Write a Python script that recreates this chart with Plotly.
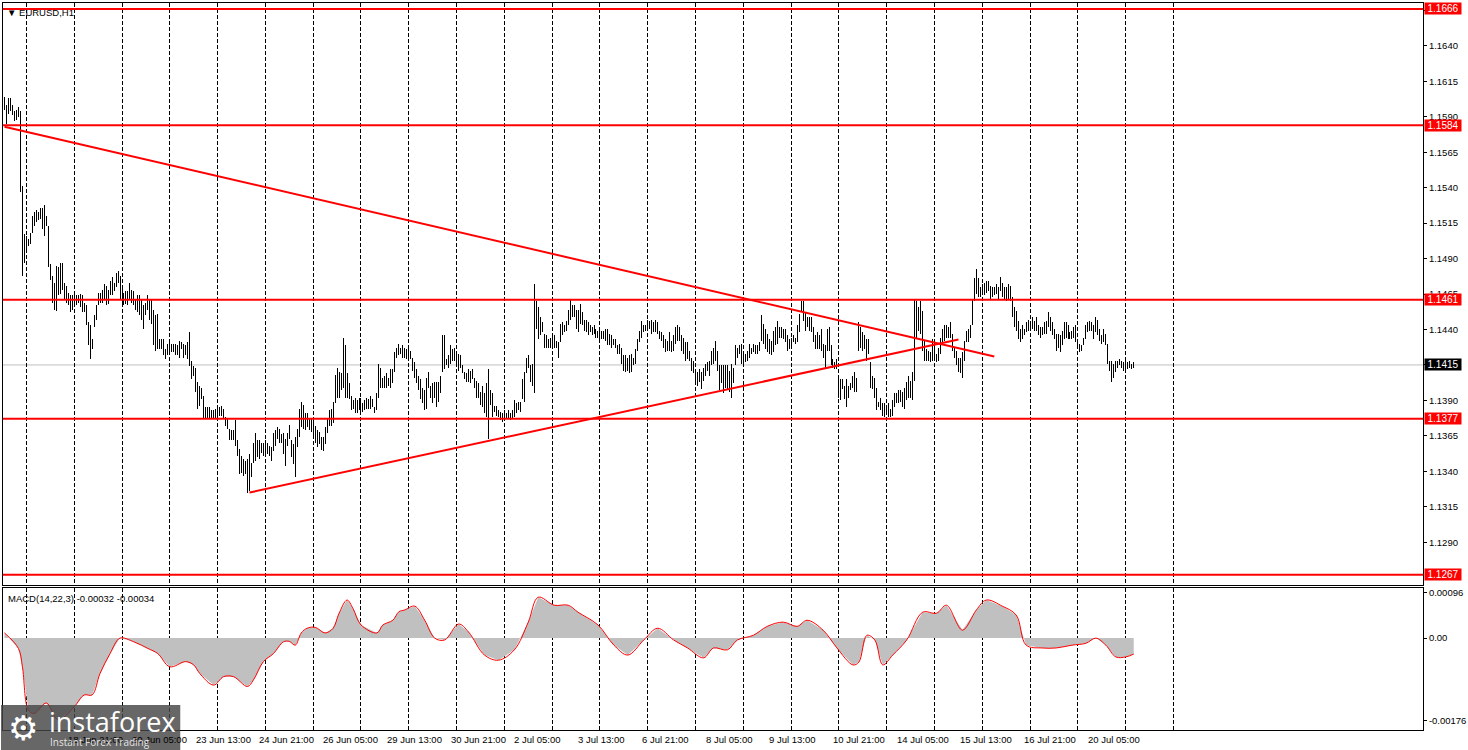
import plotly.graph_objects as go

# ---------------- data ----------------
highs = [
1.1604,1.1598,1.1603,1.1603,1.1598,1.1594,1.1595,1.1597,1.1594,1.1541,
1.1507,1.1506,1.1504,1.1508,1.1520,1.1523,1.1524,1.1523,1.1526,1.1526,
1.1528,1.1520,1.1513,1.1486,1.1478,1.1473,1.1485,1.1484,1.1487,1.1487,
1.1473,1.1471,1.1466,1.1464,1.1464,1.1467,1.1464,1.1464,1.1465,1.1464,
1.1459,1.1457,1.1445,1.1443,1.1433,1.1450,1.1457,1.1466,1.1466,1.1468,
1.1472,1.1471,1.1468,1.1474,1.1477,1.1473,1.1480,1.1481,1.1478,1.1471,
1.1466,1.1467,1.1467,1.1473,1.1468,1.1467,1.1461,1.1464,1.1464,1.1461,
1.1457,1.1459,1.1464,1.1461,1.1461,1.1454,1.1450,1.1451,1.1433,1.1433,
1.1433,1.1426,1.1430,1.1431,1.1430,1.1430,1.1430,1.1429,1.1432,1.1431,
1.1430,1.1429,1.1431,1.1438,1.1418,1.1414,1.1413,1.1403,1.1400,1.1399,
1.1393,1.1385,1.1385,1.1385,1.1383,1.1383,1.1384,1.1386,1.1385,1.1386,
1.1384,1.1378,1.1377,1.1370,1.1369,1.1369,1.1376,1.1362,1.1356,1.1351,
1.1349,1.1347,1.1349,1.1352,1.1346,1.1360,1.1367,1.1362,1.1362,1.1360,
1.1360,1.1362,1.1360,1.1358,1.1357,1.1367,1.1369,1.1371,1.1370,1.1366,
1.1367,1.1363,1.1367,1.1373,
1.1362,1.1359,1.1364,1.1370,1.1384,1.1389,1.1387,1.1381,1.1381,1.1377,
1.1377,1.1376,1.1372,1.1369,1.1368,1.1364,1.1364,1.1371,1.1377,1.1383,
1.1384,1.1389,1.1408,1.1413,1.1410,1.1409,1.1434,1.1429,1.1409,1.1402,
1.1393,1.1390,1.1392,1.1390,1.1392,1.1392,1.1388,1.1390,1.1392,1.1391,
1.1393,1.1391,1.1385,1.1395,1.1416,1.1413,1.1406,1.1407,1.1409,1.1406,
1.1412,1.1412,1.1424,1.1427,1.1430,1.1427,1.1429,1.1427,1.1426,1.1427,
1.1425,1.1420,1.1417,1.1412,1.1407,1.1405,1.1399,1.1397,1.1406,1.1410,
1.1400,1.1402,1.1403,1.1403,1.1403,1.1407,1.1436,1.1436,1.1419,1.1422,
1.1429,1.1426,1.1427,1.1425,1.1423,1.1422,1.1415,1.1410,1.1409,1.1412,
1.1411,1.1412,1.1406,1.1404,1.1402,1.1396,1.1400,1.1395,1.1402,1.1412,
1.1397,1.1395,1.1386,1.1386,1.1383,1.1382,1.1381,1.1383,1.1381,1.1383,
1.1381,1.1383,1.1390,1.1388,1.1389,1.1389,1.1405,1.1410,1.1420,1.1422,
1.1415,1.1416,1.1472,1.1460,1.1456,1.1449,1.1445,1.1437,1.1436,1.1433,
1.1434,1.1436,1.1436,1.1432,1.1431,1.1444,1.1445,1.1443,1.1446,1.1454,
1.1461,1.1457,
1.1457,1.1454,1.1454,1.1458,1.1452,1.1447,1.1447,1.1445,1.1443,1.1442,
1.1443,1.1440,1.1439,1.1442,1.1439,1.1439,1.1440,1.1440,1.1437,1.1436,
1.1433,1.1433,1.1429,1.1430,1.1427,1.1422,1.1422,1.1420,1.1422,1.1423,
1.1420,1.1426,1.1433,1.1439,1.1446,1.1443,1.1443,1.1447,1.1446,1.1447,
1.1445,1.1447,1.1445,1.1439,1.1438,1.1436,1.1433,1.1432,1.1438,1.1432,
1.1436,1.1442,1.1443,1.1442,1.1436,1.1434,1.1431,1.1431,1.1425,1.1420,
1.1418,1.1412,1.1410,1.1412,1.1410,1.1413,1.1416,1.1417,1.1418,1.1425,
1.1427,1.1432,1.1425,1.1415,1.1415,1.1415,1.1415,1.1415,1.1411,1.1416,
1.1413,1.1429,1.1427,1.1429,1.1430,1.1425,1.1423,1.1425,1.1430,1.1427,
1.1430,1.1429,1.1429,1.1431,1.1450,1.1444,1.1440,1.1437,1.1433,1.1432,
1.1439,1.1442,1.1446,1.1442,1.1442,1.1440,1.1440,1.1436,1.1433,1.1434,
1.1436,1.1434,1.1443,1.1451,1.1460,1.1460,1.1452,1.1449,1.1449,1.1449,
1.1442,1.1436,1.1438,1.1436,1.1440,1.1430,1.1429,1.1440,1.1442,1.1429,
1.1419,1.1417,1.1419,1.1406,1.1405,1.1405,1.1400,1.1405,1.1400,1.1402,
1.1407,1.1410,
1.1406,1.1445,1.1442,1.1438,1.1436,1.1433,1.1433,1.1417,1.1407,1.1406,
1.1399,1.1389,1.1392,1.1388,1.1388,1.1385,1.1388,1.1384,1.1390,1.1395,
1.1395,1.1397,1.1397,1.1396,1.1399,1.1403,1.1407,1.1404,1.1410,1.1461,
1.1460,1.1456,1.1460,1.1453,1.1432,1.1426,1.1425,1.1424,1.1433,1.1433,
1.1423,1.1427,1.1434,1.1440,1.1443,1.1443,1.1442,1.1445,1.1437,1.1427,
1.1425,1.1420,1.1420,1.1424,1.1432,1.1439,1.1440,1.1443,1.1461,1.1476,
1.1483,1.1476,1.1470,1.1472,1.1473,1.1474,1.1474,1.1471,1.1470,1.1470,
1.1472,1.1470,1.1477,1.1473,1.1470,1.1470,1.1472,1.1471,1.1463,1.1456,
1.1453,1.1446,1.1440,1.1443,1.1440,1.1445,1.1447,1.1446,1.1449,1.1446,
1.1449,1.1443,1.1442,1.1442,1.1445,1.1446,1.1452,1.1449,1.1445,1.1440,
1.1437,1.1437,1.1436,1.1439,1.1445,1.1445,1.1443,1.1438,1.1439,1.1442,
1.1443,1.1433,1.1430,1.1429,1.1434,1.1443,1.1445,1.1446,1.1445,1.1443,
1.1449,1.1447,1.1440,1.1436,1.1440,1.1437,1.1430,1.1418,1.1418,1.1416,
1.1418,1.1418,1.1419,1.1418,1.1417,1.1418,1.1417,1.1418,1.1416,1.1417,
]

lows = [
1.1595,1.1585,1.1592,1.1594,1.1591,1.1587,1.1588,1.1590,1.1537,1.1478,
1.1487,1.1496,1.1499,1.1500,1.1508,1.1513,1.1516,1.1517,1.1518,1.1511,
1.1506,1.1513,1.1484,1.1475,1.1459,1.1454,1.1453,1.1464,1.1465,1.1468,
1.1461,1.1459,1.1457,1.1452,1.1454,1.1459,1.1457,1.1459,1.1456,1.1452,
1.1452,1.1443,1.1429,1.1419,1.1426,1.1442,1.1447,1.1457,1.1459,1.1459,
1.1461,1.1457,1.1458,1.1464,1.1464,1.1467,1.1470,1.1473,1.1461,1.1457,
1.1457,1.1458,1.1457,1.1461,1.1459,1.1457,1.1454,1.1452,1.1450,1.1447,
1.1440,1.1450,1.1454,1.1447,1.1444,1.1429,1.1425,1.1426,1.1426,1.1426,
1.1422,1.1419,1.1422,1.1424,1.1424,1.1424,1.1422,1.1422,1.1420,1.1426,
1.1420,1.1422,1.1419,1.1414,1.1405,1.1407,1.1396,1.1384,1.1386,1.1391,
1.1377,1.1377,1.1377,1.1377,1.1377,1.1377,1.1377,1.1378,1.1379,1.1379,
1.1377,1.1372,1.1370,1.1362,1.1362,1.1362,1.1358,1.1351,1.1338,1.1339,
1.1337,1.1338,1.1325,1.1326,1.1336,1.1346,1.1347,1.1350,1.1349,1.1353,
1.1351,1.1352,1.1352,1.1351,1.1347,1.1354,1.1358,1.1363,1.1360,1.1360,
1.1352,1.1344,1.1358,1.1363,
1.1350,1.1345,1.1336,1.1357,1.1364,1.1371,1.1370,1.1369,1.1371,1.1369,
1.1368,1.1365,1.1360,1.1357,1.1359,1.1355,1.1354,1.1359,1.1367,1.1372,
1.1372,1.1374,1.1388,1.1392,1.1392,1.1397,1.1399,1.1392,1.1392,1.1391,
1.1383,1.1384,1.1381,1.1381,1.1383,1.1381,1.1382,1.1383,1.1384,1.1384,
1.1384,1.1385,1.1381,1.1383,1.1392,1.1399,1.1399,1.1399,1.1399,1.1400,
1.1399,1.1402,1.1410,1.1420,1.1422,1.1423,1.1420,1.1420,1.1419,1.1420,
1.1419,1.1411,1.1406,1.1402,1.1397,1.1391,1.1388,1.1383,1.1384,1.1399,
1.1392,1.1388,1.1392,1.1385,1.1389,1.1395,1.1410,1.1412,1.1415,1.1413,
1.1416,1.1418,1.1418,1.1416,1.1411,1.1413,1.1409,1.1405,1.1403,1.1403,
1.1402,1.1405,1.1399,1.1392,1.1392,1.1387,1.1385,1.1381,1.1378,1.1363,
1.1387,1.1378,1.1382,1.1379,1.1378,1.1376,1.1375,1.1377,1.1377,1.1377,
1.1376,1.1377,1.1378,1.1381,1.1383,1.1382,1.1391,1.1389,1.1409,1.1413,
1.1403,1.1400,1.1395,1.1440,1.1433,1.1436,1.1438,1.1427,1.1427,1.1427,
1.1427,1.1426,1.1427,1.1427,1.1420,1.1431,1.1436,1.1438,1.1439,1.1443,
1.1447,1.1449,
1.1449,1.1440,1.1438,1.1444,1.1443,1.1439,1.1438,1.1436,1.1438,1.1436,
1.1437,1.1434,1.1434,1.1432,1.1433,1.1433,1.1432,1.1429,1.1429,1.1427,
1.1429,1.1427,1.1423,1.1423,1.1416,1.1411,1.1410,1.1411,1.1409,1.1410,
1.1415,1.1416,1.1425,1.1431,1.1434,1.1438,1.1439,1.1442,1.1440,1.1437,
1.1438,1.1438,1.1437,1.1433,1.1432,1.1427,1.1424,1.1425,1.1425,1.1424,
1.1425,1.1430,1.1432,1.1432,1.1425,1.1423,1.1418,1.1419,1.1418,1.1411,
1.1409,1.1403,1.1400,1.1403,1.1398,1.1404,1.1407,1.1411,1.1407,1.1415,
1.1416,1.1418,1.1411,1.1397,1.1402,1.1395,1.1399,1.1397,1.1396,1.1392,
1.1402,1.1415,1.1420,1.1423,1.1416,1.1415,1.1417,1.1418,1.1420,1.1423,
1.1424,1.1423,1.1423,1.1425,1.1432,1.1430,1.1426,1.1424,1.1423,1.1422,
1.1424,1.1429,1.1430,1.1434,1.1434,1.1433,1.1431,1.1425,1.1426,1.1429,
1.1431,1.1430,1.1431,1.1438,1.1452,1.1446,1.1439,1.1442,1.1439,1.1438,
1.1431,1.1426,1.1426,1.1426,1.1425,1.1420,1.1413,1.1425,1.1425,1.1415,
1.1413,1.1412,1.1412,1.1392,1.1390,1.1398,1.1391,1.1385,1.1392,1.1397,
1.1399,1.1396,
1.1396,1.1425,1.1427,1.1425,1.1426,1.1418,1.1423,1.1399,1.1398,1.1392,
1.1383,1.1385,1.1383,1.1379,1.1378,1.1381,1.1378,1.1378,1.1379,1.1385,
1.1388,1.1388,1.1389,1.1385,1.1384,1.1390,1.1392,1.1392,1.1390,1.1404,
1.1434,1.1439,1.1437,1.1425,1.1418,1.1418,1.1418,1.1417,1.1418,1.1420,
1.1417,1.1418,1.1423,1.1429,1.1432,1.1434,1.1434,1.1434,1.1425,1.1420,
1.1415,1.1410,1.1409,1.1406,1.1418,1.1431,1.1431,1.1434,1.1443,1.1460,
1.1465,1.1463,1.1463,1.1465,1.1464,1.1466,1.1467,1.1461,1.1463,1.1464,
1.1465,1.1461,1.1467,1.1463,1.1461,1.1460,1.1461,1.1460,1.1449,1.1442,
1.1439,1.1433,1.1431,1.1433,1.1436,1.1438,1.1439,1.1439,1.1440,1.1439,
1.1439,1.1436,1.1434,1.1436,1.1437,1.1437,1.1442,1.1439,1.1436,1.1433,
1.1425,1.1427,1.1424,1.1429,1.1433,1.1434,1.1433,1.1433,1.1433,1.1434,
1.1431,1.1426,1.1424,1.1425,1.1429,1.1433,1.1438,1.1439,1.1439,1.1433,
1.1438,1.1436,1.1432,1.1430,1.1431,1.1429,1.1416,1.1411,1.1403,1.1406,
1.1410,1.1413,1.1415,1.1413,1.1411,1.1410,1.1412,1.1413,1.1412,1.1413,
]

levels = [1.1666, 1.1584, 1.1461, 1.1377, 1.1267]
last_price = 1.1415

trend_down_bars = [0, 497]
trend_down_prices = [1.1583, 1.1421]
trend_up_bars = [123, 479]
trend_up_prices = [1.1325, 1.1433]

price_ticks = [1.1290, 1.1315, 1.1340, 1.1365, 1.1390, 1.1415, 1.1440, 1.1465,
               1.1490, 1.1515, 1.1540, 1.1565, 1.1590, 1.1615, 1.1640, 1.1665]

macd_bars = [0, 7, 9, 12, 15, 21, 27, 35, 40, 44, 48, 53, 58, 65, 72, 77, 83, 91, 95, 98,
             105, 110, 115, 122, 125, 130, 135, 140, 143, 146, 149, 152, 156, 161, 165, 168,
             172, 175, 179, 187, 190, 195, 198, 201, 206, 211, 216, 221, 228, 233, 241, 248,
             256, 263, 268, 276, 283, 288, 298, 306, 313, 321, 328, 336, 343, 351, 356, 363,
             368, 376, 383, 391, 398, 403, 411, 418, 426, 429, 433, 437, 441, 446, 453, 461,
             468, 473, 481, 488, 493, 501, 508, 513, 521, 528, 536, 543, 548, 553, 558, 563, 567]
macd_signal = [0.00011, -0.00022, -0.00061, -0.00153, -0.00160, -0.00138, -0.00174, -0.00146,
               -0.00121, -0.00121, -0.00075, -0.00033, 0.00000, -0.00008, -0.00022, -0.00033,
               -0.00061, -0.00050, -0.00057, -0.00075, -0.00100, -0.00082, -0.00082, -0.00103,
               -0.00089, -0.00050, -0.00033, -0.00008, -0.00007, -0.00015, 0.00011, 0.00021,
               0.00023, 0.00011, 0.00021, 0.00053, 0.00081, 0.00063, 0.00028, 0.00011, 0.00028,
               0.00038, 0.00056, 0.00060, 0.00068, 0.00038, 0.00000, -0.00004, 0.00030, 0.00013,
               -0.00036, -0.00047, -0.00025, 0.00034, 0.00087, 0.00070, 0.00070, 0.00055, 0.00028,
               -0.00015, -0.00036, -0.00004, 0.00021, -0.00004, -0.00021, -0.00042, -0.00021,
               -0.00025, -0.00004, 0.00006, 0.00025, 0.00034, 0.00025, 0.00038, 0.00017, -0.00021,
               -0.00057, -0.00051, 0.00006, -0.00004, -0.00057, -0.00036, -0.00004, 0.00055,
               0.00053, 0.00070, 0.00017, 0.00060, 0.00081, 0.00068, 0.00049, -0.00015, -0.00021,
               -0.00021, -0.00015, -0.00011, 0.00000, -0.00015, -0.00040, -0.00040, -0.00034]
macd_main = list(macd_signal)

time_labels = ["17 Jun 2025", "18 Jun 21:00", "20 Jun 05:00", "23 Jun 13:00", "24 Jun 21:00",
               "26 Jun 05:00", "29 Jun 13:00", "30 Jun 21:00", "2 Jul 05:00", "3 Jul 13:00",
               "6 Jul 21:00", "8 Jul 05:00", "9 Jul 13:00", "10 Jul 21:00", "14 Jul 05:00",
               "15 Jul 13:00", "16 Jul 21:00", "20 Jul 05:00"]
label_step = 32
grid_first, grid_step, grid_count = 11, 24, 25

# ---------------- figure ----------------
FONT = "Liberation Sans"
RED = "#FF0000"

bx, by = [], []
for i, (h, l) in enumerate(zip(highs, lows)):
    bx += [i, i, None]
    by += [l, h, None]

fig = go.Figure()
fig.add_trace(go.Scatter(x=bx, y=by, mode="lines", line=dict(color="black", width=1),
                         xaxis="x", yaxis="y", hoverinfo="skip", showlegend=False))
fig.add_trace(go.Scatter(x=macd_bars, y=macd_main, mode="lines", fill="tozeroy",
                         fillcolor="#C0C0C0", line=dict(color="#C0C0C0", width=0),
                         xaxis="x2", yaxis="y2", hoverinfo="skip", showlegend=False))
fig.add_trace(go.Scatter(x=macd_bars, y=macd_signal, mode="lines",
                         line=dict(color=RED, width=1), line_shape="spline",
                         xaxis="x2", yaxis="y2", hoverinfo="skip", showlegend=False))

grid_vals = [grid_first + grid_step * k for k in range(grid_count)]
xr = [-0.75, 712.25]
ymin, ymax = 1.12597, 1.16702
m_lo, m_hi = -0.001955, 0.001062

axis_common = dict(showline=True, linecolor="black", linewidth=1, mirror=True,
                   zeroline=False)
fig.update_layout(
    width=1468, height=750,
    margin=dict(l=2, r=40, t=2, b=20),
    paper_bgcolor="white", plot_bgcolor="white",
    font=dict(family=FONT, size=9.5, color="black"),
    xaxis=dict(domain=[0, 1], range=xr, anchor="y", tickvals=grid_vals,
               showticklabels=False, ticks="", showgrid=True, gridcolor="black",
               gridwidth=1, griddash="4px,2px", **axis_common),
    yaxis=dict(domain=[0.19918, 1], range=[ymin, ymax], side="right", anchor="x",
               tickvals=price_ticks, ticktext=[f"{v:.4f}" for v in price_ticks],
               ticks="outside", ticklen=3, tickcolor="black", showgrid=False,
               tickfont=dict(family=FONT, size=9.5, color="black"), **axis_common),
    xaxis2=dict(domain=[0, 1], range=xr, anchor="y2", tickvals=grid_vals,
                showticklabels=False, ticks="", showgrid=True, gridcolor="black",
                gridwidth=1, griddash="4px,2px", **axis_common),
    yaxis2=dict(domain=[0, 0.19505], range=[m_lo, m_hi], side="right", anchor="x2",
                tickvals=[0.00096, 0.0, -0.00176], ticktext=["0.00096", "0.00", "-0.00176"],
                ticks="outside", ticklen=3, tickcolor="black", showgrid=False,
                tickfont=dict(family=FONT, size=9.5, color="black"), **axis_common),
)

shapes = []
# current price line
shapes.append(dict(type="line", xref="paper", yref="y", x0=0, x1=1, y0=last_price,
                   y1=last_price, line=dict(color="#C0C0C0", width=1), layer="below"))
for lv in levels:
    shapes.append(dict(type="line", xref="paper", yref="y", x0=0, x1=1, y0=lv, y1=lv,
                       line=dict(color=RED, width=2)))
shapes.append(dict(type="line", xref="x", yref="y", x0=trend_down_bars[0], x1=trend_down_bars[1],
                   y0=trend_down_prices[0], y1=trend_down_prices[1], line=dict(color=RED, width=2)))
shapes.append(dict(type="line", xref="x", yref="y", x0=trend_up_bars[0], x1=trend_up_bars[1],
                   y0=trend_up_prices[0], y1=trend_up_prices[1], line=dict(color=RED, width=2)))
# watermark box
shapes.append(dict(type="rect", xref="paper", yref="paper", x0=-2 / 1426, x1=178 / 1426,
                   y0=-20 / 728, y1=25 / 728, fillcolor="rgba(70,70,70,0.82)",
                   line=dict(width=0), layer="above"))

annotations = []
for lv in levels:
    annotations.append(dict(xref="paper", yref="y", x=1, y=lv, xanchor="left", yanchor="middle",
                            text=f"{lv:.4f}", showarrow=False, bgcolor=RED, borderpad=0,
                            width=36, height=11, align="center", xshift=1,
                            font=dict(family=FONT, size=10, color="white")))
annotations.append(dict(xref="paper", yref="y", x=1, y=last_price, xanchor="left", yanchor="middle",
                        text=f"{last_price:.4f}", showarrow=False, bgcolor="black", borderpad=0,
                        width=36, height=11, align="center", xshift=1,
                        font=dict(family=FONT, size=10, color="white")))
for k, lab in enumerate(time_labels):
    annotations.append(dict(xref="x2", yref="paper", x=label_step * k - 1, y=0, xanchor="left",
                            yanchor="top", yshift=-2, text=lab, showarrow=False,
                            font=dict(family=FONT, size=9.5, color="black")))
annotations.append(dict(xref="paper", yref="paper", x=0, y=1, xanchor="left", yanchor="top",
                        xshift=2, yshift=-2, text="▼ EURUSD,H1", showarrow=False,
                        font=dict(family=FONT, size=9.5, color="black")))
annotations.append(dict(xref="paper", yref="paper", x=0, y=0.19505, xanchor="left", yanchor="top",
                        xshift=3, yshift=-3, text="MACD(14,22,3) -0.00032 -0.00034", showarrow=False,
                        font=dict(family=FONT, size=9.5, color="black")))
# watermark text
annotations.append(dict(xref="paper", yref="paper", x=20 / 1426, y=2 / 728, xanchor="center",
                        yanchor="middle", text="⚙", showarrow=False,
                        font=dict(family="DejaVu Sans", size=34, color="white")))
annotations.append(dict(xref="paper", yref="paper", x=44 / 1426, y=9 / 728, xanchor="left",
                        yanchor="middle", text="instaforex", showarrow=False,
                        font=dict(family="Open Sans", size=27, color="white")))
annotations.append(dict(xref="paper", yref="paper", x=45 / 1426, y=-12 / 728, xanchor="left",
                        yanchor="middle", text="Instant Forex Trading", showarrow=False,
                        font=dict(family="Open Sans", size=10, color="rgba(255,255,255,0.85)")))

fig.update_layout(shapes=shapes, annotations=annotations)

crisp_js = """
var gd = document.getElementsByClassName('plotly-graph-div')[0];
function crisp(){
  var paths = gd.querySelectorAll('.scatterlayer .trace:first-child path.js-line');
  paths.forEach(function(p){ p.style.shapeRendering = 'crispEdges'; });
}
crisp();
gd.on('plotly_afterplot', crisp);
"""
fig.write_html("out.html", post_script=crisp_js)
